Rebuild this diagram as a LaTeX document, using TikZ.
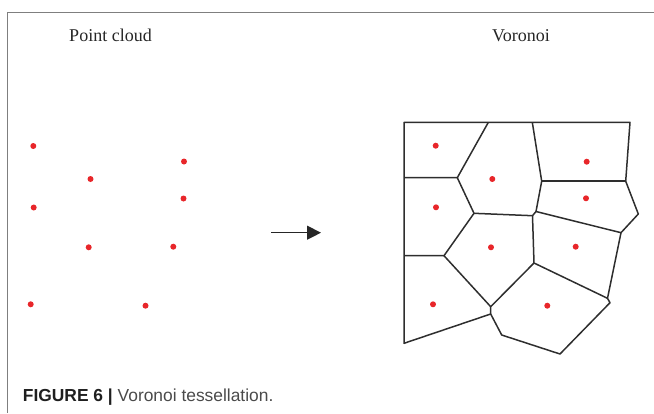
\documentclass[tikz,border=0pt]{standalone}
\usepackage{fontspec}
\setmainfont{Liberation Serif}
\newfontfamily\capfont{Liberation Sans}
\usetikzlibrary{arrows.meta}
\definecolor{dotred}{HTML}{E8262A}
\definecolor{edgegray}{HTML}{2E2E2E}
\definecolor{framegray}{HTML}{7F7F7F}
\definecolor{captxt}{HTML}{4A4A4A}
\tikzset{
  seed/.style={circle,fill=dotred,inner sep=0pt,minimum size=6pt},
  cell/.style={draw=edgegray,line width=1.5pt,line join=round},
  title/.style={font=\fontsize{18}{20}\selectfont,text=black!85,anchor=base,inner sep=0pt},
  flow/.style={draw=black!85,line width=1.3pt,-{Triangle[length=14pt,width=14pt]}}
}
\begin{document}
\begin{tikzpicture}[x=1pt,y=-1pt]
\useasboundingbox (0,0) rectangle (654,413);
% frame
\draw[framegray,line width=1pt] (654,12.3) -- (7.3,12.3) -- (7.3,413);
% titles
\node[title] (tpc) at (110.5,41.7) {Point cloud};
\node[title] (tvo) at (521,41.7) {Voronoi};
% point cloud
\foreach \n/\x/\y in {p1/33.3/146,p2/90.5/179,p3/184/161.5,p4/33.7/207.5,p5/183.5/198.5,p6/88.7/247.3,p7/173.3/246.7,p8/30.7/304.3,p9/145.5/305.7}
  \node[seed] (\n) at (\x,\y) {};
% arrow
\coordinate (a0) at (271,232.7);
\coordinate (a1) at (321,232.7);
\draw[flow] (a0) -- (a1);
% voronoi vertices
\coordinate (T1) at (404,122.3);
\coordinate (T2) at (488.3,122.4);
\coordinate (T3) at (532.3,122.3);
\coordinate (T4) at (630,122.3);
\coordinate (R1) at (625.7,181.2);
\coordinate (R2) at (638.3,214);
\coordinate (R3) at (621,232.7);
\coordinate (C) at (607.5,298.3);
\coordinate (D) at (610,302.7);
\coordinate (B1) at (560,354);
\coordinate (B2) at (501.7,335);
\coordinate (E) at (490.7,314);
\coordinate (F) at (490.7,306.7);
\coordinate (BL) at (404,343.3);
\coordinate (L1) at (404,177.7);
\coordinate (G) at (457.3,177.7);
\coordinate (H) at (474,213.3);
\coordinate (A) at (536,211.5);
\coordinate (B) at (532.5,215.7);
\coordinate (K) at (541.7,181.2);
\coordinate (I) at (444,255.7);
\coordinate (L2) at (404,255.7);
\coordinate (J) at (534,263);
\draw[cell] (T1) -- (T4) -- (R1) -- (R2) -- (R3) -- (C) -- (D) -- (B1) -- (B2) -- (E) -- (BL) -- cycle;
\draw[cell] (L1) -- (G) -- (T2);
\draw[cell] (G) -- (H) -- (B) -- (A) -- (K) -- (T3);
\draw[cell] (K) -- (R1);
\draw[cell] (A) -- (R3);
\draw[cell] (B) -- (J) -- (C);
\draw[cell] (J) -- (F) -- (E);
\draw[cell] (H) -- (I) -- (L2);
\draw[cell] (I) -- (F);
% voronoi seeds
\foreach \n/\x/\y in {v1/435.7/145.7,v2/492.3/179,v3/586.7/161.7,v4/586/198.3,v5/436/207.3,v6/491/247.3,v7/575.7/246.7,v8/433/304.3,v9/547.3/305.7}
  \node[seed] (\n) at (\x,\y) {};
% caption
\node[anchor=base west,inner sep=0pt,font=\capfont\fontsize{17.4}{20}\selectfont] (cap) at (22.7,401.7)
  {\textcolor{black!88}{\textbf{FIGURE 6 |}} \textcolor{captxt}{Voronoi tessellation.}};
\end{tikzpicture}
\end{document}
